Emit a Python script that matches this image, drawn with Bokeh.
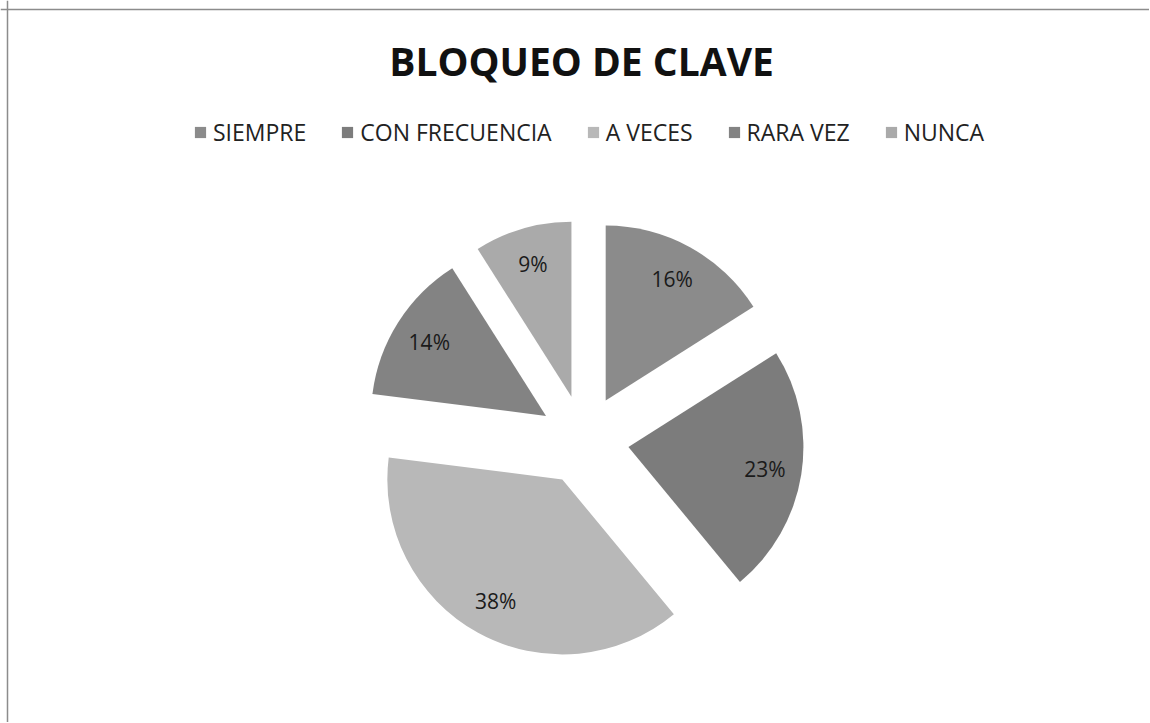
import numpy as np
from bokeh.plotting import figure
from bokeh.models import ColumnDataSource, Range1d, Legend, LegendItem, Label, Span
from bokeh.core.properties import value
from bokeh.embed import file_html
from bokeh.resources import INLINE

# ---- data ----
title_text = "BLOQUEO DE CLAVE"
categories = ["SIEMPRE", "CON FRECUENCIA", "A VECES", "RARA VEZ", "NUNCA"]
percents = [16, 23, 38, 14, 9]
colors = ["#8b8b8b", "#7c7c7c", "#b8b8b8", "#838383", "#aaaaaa"]

# ---- layout constants ----
W, H = 1149, 722
CX, CY = 583.5, 439.5      # pie centre in px from top-left of the figure
R_PX = 175.0               # pie radius in px
EXPLODE = 0.257            # explosion as fraction of radius
LABEL_R = 0.79             # label distance from slice apex, fraction of radius
FONT = "Open Sans"

vals = np.array(percents, dtype=float)
frac = vals / vals.sum()
cum = np.concatenate([[0.0], np.cumsum(frac)]) * 2 * np.pi
a0, a1 = cum[:-1], cum[1:]
start = np.pi / 2 - a1
end = np.pi / 2 - a0
mid = np.pi / 2 - (a0 + a1) / 2
xs = EXPLODE * np.cos(mid)
ys = EXPLODE * np.sin(mid)
lx = xs + LABEL_R * np.cos(mid)
ly = ys + LABEL_R * np.sin(mid)

src = ColumnDataSource(dict(
    x=xs, y=ys, start=start, end=end, color=colors, cat=categories,
    lx=lx, ly=ly, lab=[f"{v}%" for v in percents],
))

p = figure(width=W, height=H, output_backend="svg", toolbar_location=None,
           x_range=Range1d(-CX / R_PX, (W - CX) / R_PX),
           y_range=Range1d(-(H - CY) / R_PX, CY / R_PX),
           min_border=0)
p.axis.visible = False
p.grid.visible = False
p.outline_line_color = None
p.background_fill_color = "white"
p.border_fill_color = "white"

# scanned page frame (top and left edges)
p.add_layout(Span(location=7, location_units="screen", dimension="height",
                  line_color="#8c8c8c", line_width=1.5))
p.add_layout(Span(location=H - 9, location_units="screen", dimension="width",
                  line_color="#8c8c8c", line_width=1.5))

r = p.wedge(x="x", y="y", radius=1.0, start_angle="start", end_angle="end",
            direction="anticlock", fill_color="color", line_color=None, source=src)

p.text(x="lx", y="ly", text="lab", source=src, text_align="center",
       text_baseline="middle", text_font=value(FONT), text_font_size="21px",
       text_color="#1a1a1a")

legend = Legend(items=[LegendItem(label=c, renderers=[r], index=i) for i, c in enumerate(categories)],
                orientation="horizontal", location=(193, 574),
                glyph_width=14, glyph_height=14, label_standoff=6, spacing=34,
                padding=0, margin=0, border_line_alpha=0, background_fill_alpha=0,
                label_text_font=FONT, label_text_font_size="23px", label_text_color="#222222")
p.add_layout(legend)

p.add_layout(Label(x=581, y=H - 60, x_units="screen", y_units="screen", text=title_text,
                   text_align="center", text_baseline="alphabetic", text_font=FONT,
                   text_font_style="bold", text_font_size="39px", text_color="#111111"))

open("out.html", "w").write(file_html(p, INLINE))
